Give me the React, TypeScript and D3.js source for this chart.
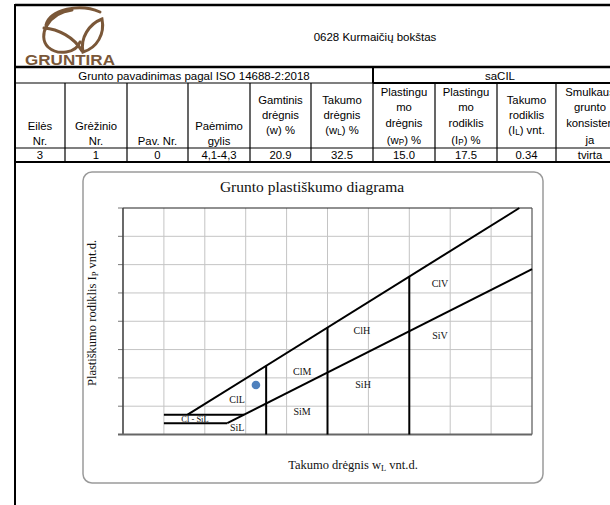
import React from "react";
import * as d3 from "d3";

// ---------- table data ----------
const titleText = "0628 Kurmaičių bokštas";
const isoLabel = "Grunto pavadinimas pagal ISO 14688-2:2018";
const soilName = "saCIL";
const columnEdges = [15, 65, 127, 188, 250, 311, 373, 435, 497, 556, 624];
const headerLines: string[][] = [
  ["Eilės", "Nr."],
  ["Grėžinio", "Nr."],
  ["Pav. Nr."],
  ["Paėmimo", "gylis"],
  ["Gamtinis", "drėgnis", "(w) %"],
  ["Takumo", "drėgnis", "(w_L) %"],
  ["Plastingu", "mo", "drėgnis", "(w_P) %"],
  ["Plastingu", "mo", "rodiklis", "(I_P) %"],
  ["Takumo", "rodiklis", "(I_L) vnt."],
  ["Smulkaus", "grunto", "konsisten", "ja"],
];
const rowValues = ["3", "1", "0", "4,1-4,3", "20.9", "32.5", "15.0", "17.5", "0.34", "tvirta"];

// ---------- chart data ----------
const chartTitle = "Grunto plastiškumo diagrama";
const xGrid = [0, 10, 20, 30, 40, 50, 60, 70, 80, 90, 100];
const yGrid = [0, 10, 20, 30, 40, 50, 60, 70, 80];
const aLine: [number, number][] = [[25.5, 4], [100, 58.4]];
const uLine: [number, number][] = [[15.8, 7], [96.9, 80]];
const clSilTop: [number, number][] = [[10, 7], [29.6, 7]];
const clSilBottom: [number, number][] = [[10, 4], [25.5, 4]];
const boundaryWL = [35, 50, 70];
const boundaryTopIp = [24.3, 37.8, 55.8];
const zoneLabels = ["ClV", "ClH", "SiV", "SiH", "ClM", "SiM", "ClL", "Cl - SiL", "SiL"];
const zoneLabelWL = [77.5, 58.4, 77.5, 58.7, 43.8, 43.8, 27.9, 17.6, 27.9];
const zoneLabelIp = [53.5, 36.6, 34.8, 17.8, 22.4, 8.0, 12.2, 5.4, 2.3];
const sampleWL = [32.5];
const sampleIp = [17.5];

const x = d3.scaleLinear().domain([0, 100]).range([123, 532]);
const y = d3.scaleLinear().domain([0, 80]).range([434.5, 208]);
const line = d3
  .line<[number, number]>()
  .x((d) => x(d[0]))
  .y((d) => y(d[1]));

const brown = "#7a5738";
const sansFont = "'Liberation Sans', Arial, sans-serif";
const serifFont = "'Liberation Serif', 'Times New Roman', serif";

function SubText({ text, x: tx, y: ty, size }: { text: string; x: number; y: number; size: number }) {
  const i = text.indexOf("_");
  if (i < 0) {
    return (
      <text x={tx} y={ty} textAnchor="middle" fontSize={size}>
        {text}
      </text>
    );
  }
  const before = text.slice(0, i);
  const sub = text.slice(i + 1, i + 2);
  const after = text.slice(i + 2);
  return (
    <text x={tx} y={ty} textAnchor="middle" fontSize={size}>
      {before}
      <tspan fontSize={size * 0.72} dy={1}>
        {sub}
      </tspan>
      <tspan dy={-1}>{after}</tspan>
    </text>
  );
}

const lineYs: Record<number, number[]> = {
  1: [141],
  2: [126, 141],
  3: [100, 115, 130],
  4: [92, 107, 123, 140],
};

export default function App() {
  const cells = headerLines.map((lines, i) => {
    const cx = (columnEdges[i] + columnEdges[i + 1]) / 2;
    const ys = lineYs[lines.length];
    return (
      <g key={"h" + i}>
        {lines.map((l, j) => (
          <SubText key={j} text={l} x={cx} y={ys[j] + 4} size={11.3} />
        ))}
        <text x={cx} y={159} textAnchor="middle" fontSize={11.3}>
          {rowValues[i]}
        </text>
      </g>
    );
  });

  return (
    <svg
      width={610}
      height={505}
      style={{ position: "absolute", left: 0, top: 0, background: "#fff" }}
    >
      <rect x={0} y={0} width={610} height={505} fill="#fff" />
      {/* ---------------- table ---------------- */}
      <g fontFamily={sansFont} fill="#000">
        <line x1={15} x2={624} y1={5} y2={5} stroke="#000" strokeWidth={2.5} />
        <line x1={15} x2={15} y1={4} y2={505} stroke="#000" strokeWidth={2} />
        <line x1={15} x2={624} y1={67} y2={67} stroke="#000" strokeWidth={2.5} />
        <line x1={15} x2={373} y1={83} y2={83} stroke="#000" strokeWidth={1.2} />
        <line x1={373} x2={624} y1={83} y2={83} stroke="#000" strokeWidth={2} />
        <line x1={373} x2={373} y1={67} y2={83} stroke="#000" strokeWidth={2} />
        <line x1={15} x2={624} y1={148} y2={148} stroke="#000" strokeWidth={1.2} />
        <line x1={15} x2={624} y1={162} y2={162} stroke="#000" strokeWidth={2} />
        {columnEdges.slice(1, -1).map((cx) => (
          <line key={cx} x1={cx} x2={cx} y1={83} y2={162} stroke="#000" strokeWidth={1.2} />
        ))}
        <text x={375} y={41} textAnchor="middle" fontSize={11.5}>
          {titleText}
        </text>
        <text x={194} y={80} textAnchor="middle" fontSize={11.5}>
          {isoLabel}
        </text>
        <text x={500} y={80} textAnchor="middle" fontSize={11.5}>
          {soilName}
        </text>
        {cells}
      </g>

      {/* ---------------- logo ---------------- */}
      <g fill="none" stroke={brown} strokeWidth={3} strokeLinecap="round">
        <path d="M46,25 C50,9 80,3 100,12" />
        <path d="M72,10 C48,13 37,36 48,47 C58,56 76,53 80,42" />
        <path d="M44,28 C58,29 74,37 82,51" />
        <path d="M83,52 C80,38 89,24 102,19 C105,34 97,48 83,52 Z" />
      </g>
      <text
        x={25}
        y={65}
        fontFamily={sansFont}
        fontWeight="bold"
        fontSize={14}
        fill={brown}
        textLength={90}
        lengthAdjust="spacingAndGlyphs"
      >
        GRUNTIRA
      </text>

      {/* ---------------- chart ---------------- */}
      <rect x={83} y={172} width={460} height={311} rx={9} fill="#fff" stroke="#9a9a9a" strokeWidth={1.5} />
      <text x={312} y={192} textAnchor="middle" fontFamily={serifFont} fontSize={15.5} fill="#111">
        {chartTitle}
      </text>

      {/* grid */}
      <g stroke="#c4c4c4" strokeWidth={1}>
        {xGrid.slice(1, -1).map((v) => (
          <line key={"gx" + v} x1={x(v)} x2={x(v)} y1={y(80)} y2={y(0)} />
        ))}
        {yGrid.slice(1, -1).map((v) => (
          <line key={"gy" + v} x1={x(0)} x2={x(100)} y1={y(v)} y2={y(v)} />
        ))}
      </g>
      {/* y ticks */}
      <g stroke="#777" strokeWidth={1}>
        {yGrid.map((v) => (
          <line key={"t" + v} x1={x(0) - 5} x2={x(0)} y1={y(v)} y2={y(v)} />
        ))}
      </g>
      {/* frame */}
      <line x1={x(0)} x2={x(100)} y1={y(80)} y2={y(80)} stroke="#222" strokeWidth={1.2} />
      <line x1={x(100)} x2={x(100)} y1={y(80)} y2={y(0)} stroke="#555" strokeWidth={1.2} />
      <line x1={x(0)} x2={x(0)} y1={y(80)} y2={y(0)} stroke="#444" strokeWidth={1.6} />
      <line x1={x(0) - 5} x2={x(100)} y1={y(0)} y2={y(0)} stroke="#666" strokeWidth={2} />

      {/* zone boundaries */}
      <g fill="none" stroke="#000" strokeWidth={2}>
        <path d={line(aLine) || ""} />
        <path d={line(uLine) || ""} />
        <path d={line(clSilTop) || ""} />
        <path d={line(clSilBottom) || ""} />
        {boundaryWL.map((w, i) => (
          <line key={"b" + w} x1={x(w)} x2={x(w)} y1={y(0)} y2={y(boundaryTopIp[i])} />
        ))}
      </g>

      {/* zone labels */}
      <g fontFamily={serifFont} fill="#111" textAnchor="middle" dominantBaseline="central">
        {zoneLabels.map((t, i) => (
          <text key={t} x={x(zoneLabelWL[i])} y={y(zoneLabelIp[i])} fontSize={t.length > 4 ? 8.5 : 10}>
            {t}
          </text>
        ))}
      </g>

      {/* sample point */}
      {sampleWL.map((w, i) => (
        <circle key={"p" + i} cx={x(w)} cy={y(sampleIp[i])} r={4.3} fill="#4f81bd" />
      ))}

      {/* axis titles */}
      <text
        transform={`translate(96,313) rotate(-90)`}
        textAnchor="middle"
        fontFamily={serifFont}
        fontSize={12.5}
        fill="#111"
      >
        Plastiškumo rodiklis I<tspan fontSize={8.5} dy={2}>P</tspan>
        <tspan dy={-2}> vnt.d.</tspan>
      </text>
      <text x={353} y={469} textAnchor="middle" fontFamily={serifFont} fontSize={12.5} fill="#111">
        Takumo drėgnis w<tspan fontSize={8.5} dy={2}>L</tspan>
        <tspan dy={-2}> vnt.d.</tspan>
      </text>
    </svg>
  );
}
